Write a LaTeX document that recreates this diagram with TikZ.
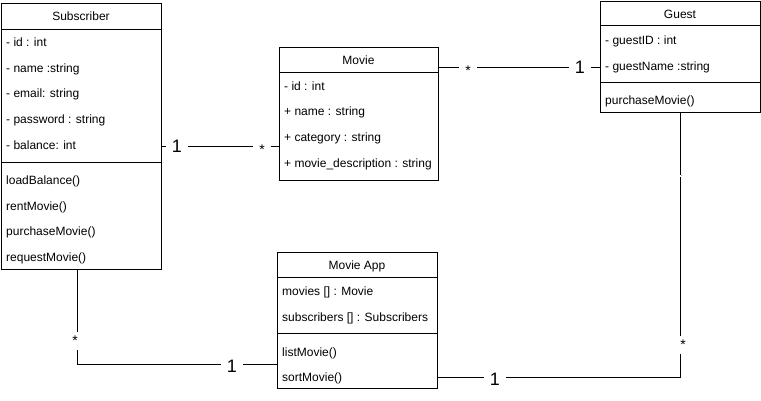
\documentclass[tikz,border=0pt]{standalone}
\usepackage{fontspec}
\setmainfont{Liberation Sans}
\begin{document}
\begin{tikzpicture}[x=1pt,y=-1pt,
  classbox/.style={draw, line width=0.9pt, inner sep=0pt, anchor=north west},
  title/.style={font=\fontsize{12}{14}\selectfont, inner sep=0pt, text height=10.6pt, text depth=1.6pt},
  member/.style={font=\fontsize{12}{14}\selectfont, inner sep=0pt, anchor=west, text height=10.6pt, text depth=1.6pt},
  sep/.style={line width=0.9pt},
  wire/.style={line width=0.9pt},
  one/.style={fill=white, font=\fontsize{18}{18}\selectfont, inner xsep=6pt, inner ysep=1pt},
  many/.style={fill=white, font=\fontsize{14}{14}\selectfont, inner xsep=6pt, inner ysep=4pt},
  dotlbl/.style={fill=white, font=\fontsize{6}{6}\selectfont, inner sep=1pt},
]
\useasboundingbox (0,0) rectangle (761,400);

% ---------- Subscriber ----------
\node[classbox, minimum width=160pt, minimum height=266pt] (sub) at (1,3) {};
\draw[sep] (1,29) -- (161,29);
\draw[sep] (1,162) -- (161,162);
\node[title] (subT) at (81,16) {Subscriber};
\node[member] (subA1) at (6,42)  {- id : int};
\node[member] (subA2) at (6,68)  {- name :string};
\node[member] (subA3) at (6,93)  {- email: string};
\node[member] (subA4) at (6,119) {- password : string};
\node[member] (subA5) at (6,145) {- balance: int};
\node[member] (subM1) at (6,180) {loadBalance()};
\node[member] (subM2) at (6,206) {rentMovie()};
\node[member] (subM3) at (6,231) {purchaseMovie()};
\node[member] (subM4) at (6,257) {requestMovie()};

% ---------- Movie ----------
\node[classbox, minimum width=159pt, minimum height=133pt] (movie) at (279,47) {};
\draw[sep] (279,72) -- (438,72);
\node[title] (movT) at (358.5,60) {Movie};
\node[member] (movA1) at (284,86)  {- id : int};
\node[member] (movA2) at (284,111) {+ name : string};
\node[member] (movA3) at (284,137) {+ category : string};
\node[member] (movA4) at (284,163) {+ movie\_description : string};

% ---------- Guest ----------
\node[classbox, minimum width=160pt, minimum height=111pt] (guest) at (600,1) {};
\draw[sep] (600,25) -- (760,25);
\draw[sep] (600,82) -- (760,82);
\node[title] (gueT) at (680,14) {Guest};
\node[member] (gueA1) at (605,40)  {- guestID : int};
\node[member] (gueA2) at (605,66)  {- guestName :string};
\node[member] (gueM1) at (605,100) {purchaseMovie()};

% ---------- Movie App ----------
\node[classbox, minimum width=160pt, minimum height=136pt] (app) at (277,252) {};
\draw[sep] (277,277) -- (437,277);
\draw[sep] (277,333) -- (437,333);
\node[title] (appT) at (357,265) {Movie App};
\node[member] (appA1) at (282,291) {movies [] : Movie};
\node[member] (appA2) at (282,317) {subscribers [] : Subscribers};
\node[member] (appM1) at (282,352) {listMovie()};
\node[member] (appM2) at (282,377) {sortMovie()};

% ---------- attach points ----------
\coordinate (subR)  at (sub.east |- 0,146);
\coordinate (movL)  at (movie.west |- 0,146);
\coordinate (movR)  at (movie.east |- 0,67);
\coordinate (gueL)  at (guest.west |- 0,67);
\coordinate (subB)  at (77,0 |- sub.south);
\coordinate (appL)  at (app.west |- 0,364);
\coordinate (gueB)  at (680,0 |- guest.south);
\coordinate (appR)  at (app.east |- 0,377);

% ---------- associations ----------
\draw[wire] (subR) -- (movL);
\node[one]  (l1a) at (177,146) {1};
\node[many] (l1b) at (262,150) {*};

\draw[wire] (movR) -- (gueL);
\node[many] (l2a) at (468,71) {*};
\node[one]  (l2b) at (580,67) {1};

\draw[wire] (subB) |- (appL);
\node[many] (l3a) at (75,341) {*};
\node[one]  (l3b) at (232,366) {1};

\draw[wire] (gueB) |- (appR);
\node[dotlbl] (l4c) at (682,176) {.};
\node[many] (l4a) at (683,345) {*};
\node[one]  (l4b) at (495,379) {1};
\end{tikzpicture}
\end{document}
